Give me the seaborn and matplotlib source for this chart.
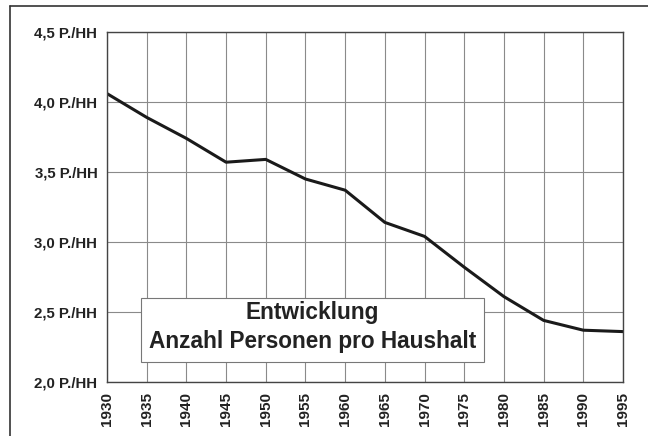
import matplotlib
matplotlib.use("Agg")
import matplotlib.pyplot as plt
import seaborn as sns
import pandas as pd
from matplotlib.lines import Line2D
from matplotlib.patches import Rectangle

# Haushaltsgröße (Personen pro Haushalt)
years = [1930, 1935, 1940, 1945, 1950, 1955, 1960, 1965, 1970, 1975, 1980, 1985, 1990, 1995]
persons = [4.06, 3.89, 3.74, 3.57, 3.59, 3.45, 3.37, 3.14, 3.04, 2.82, 2.61, 2.44, 2.37, 2.36]
y_ticks = [2.0, 2.5, 3.0, 3.5, 4.0, 4.5]
y_tick_labels = ["2,0 P./HH", "2,5 P./HH", "3,0 P./HH", "3,5 P./HH", "4,0 P./HH", "4,5 P./HH"]
box_text = "Entwicklung\nAnzahl Personen pro Haushalt"

sns.set_style("white")
plt.rcParams['font.family'] = ['Liberation Sans', 'DejaVu Sans']

df = pd.DataFrame({"Jahr": years, "Personen": persons})

fig = plt.figure(figsize=(6.48, 4.36), dpi=100)
ax = fig.add_axes([107 / 648, 1 - 382 / 436, 516 / 648, 350 / 436])

sns.lineplot(data=df, x="Jahr", y="Personen", ax=ax, color="#1a1a1a", linewidth=2.2)

ax.set_xlim(1930, 1995)
ax.set_ylim(2.0, 4.5)
ax.set_xticks(years)
ax.set_xticklabels([str(y) for y in years], rotation=90, fontsize=11, fontweight="bold", color="#222222")
ax.set_yticks(y_ticks)
ax.set_yticklabels(y_tick_labels, fontsize=10.8, fontweight="bold", color="#222222")
ax.set_xlabel("")
ax.set_ylabel("")
ax.grid(True, color="#8a8a8a", linewidth=0.8)
ax.tick_params(axis="both", direction="out", length=4, color="#555555", width=0.8, pad=3)
for s in ax.spines.values():
    s.set_color("#444444")
    s.set_linewidth(1.0)
    s.set_visible(True)

# title box inside the plot
ax.add_patch(Rectangle((0.066, 0.057), 0.665, 0.183, transform=ax.transAxes, facecolor="white",
                       edgecolor="#777777", linewidth=0.8, zorder=4))
ax.text(0.398, 0.157, box_text, transform=ax.transAxes, fontsize=16.3, fontweight="bold",
        ha="center", va="center", color="#222222", linespacing=1.35, zorder=5)

# outer frame (left and top edges visible)
fig.add_artist(Line2D([10 / 648, 10 / 648], [0, 1 - 6 / 436], transform=fig.transFigure, color="#333333", linewidth=1.2))
fig.add_artist(Line2D([10 / 648, 1], [1 - 6 / 436, 1 - 6 / 436], transform=fig.transFigure, color="#333333", linewidth=1.2))

fig.savefig("out.png", dpi=100)
